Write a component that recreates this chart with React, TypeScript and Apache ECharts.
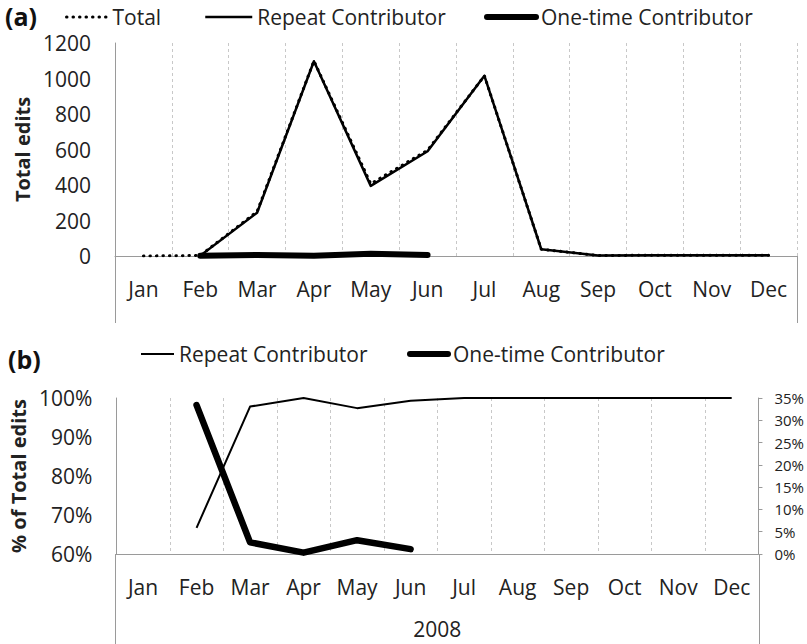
import React, { useEffect, useRef } from "react";
import * as echarts from "echarts";

const months = ["Jan", "Feb", "Mar", "Apr", "May", "Jun", "Jul", "Aug", "Sep", "Oct", "Nov", "Dec"];
const totalEdits = [0, 3, 250, 1099, 407, 596, 1015, 38, 3, 4, 4, 4];
const repeatEdits = [null, 2, 244, 1097, 395, 590, 1015, 38, 3, 4, 4, 4];
const oneTimeEdits = [null, 1, 6, 2, 12, 6, null, null, null, null, null, null];
const repeatPct = [null, 66.7, 97.8, 100, 97.4, 99.3, 100, 100, 100, 100, 100, 100];
const oneTimePct = [null, 33.4, 2.6, 0.3, 3.1, 1.1, null, null, null, null, null, null];
const yearLabel = "2008";

const FONT = "Open Sans";
const TXT = "#222";
const AXIS = "#9a9a9a";
const GRID = "#c8c8c8";

export default function App() {
  const ref = useRef<HTMLDivElement>(null);
  useEffect(() => {
    if (!ref.current) return;
    const chart = echarts.init(ref.current, undefined, { renderer: "svg" });
    const catAxis = (gridIndex: number, margin: number, extra: any = {}) => ({
      type: "category",
      gridIndex,
      data: months,
      boundaryGap: true,
      axisLine: { show: true, lineStyle: { color: AXIS, width: 1 } },
      axisTick: { show: false },
      axisLabel: { color: TXT, fontSize: 21, fontFamily: FONT, margin, interval: 0 },
      splitLine: { show: true, interval: 0, lineStyle: { color: GRID, type: [3, 3], width: 1 } },
      ...extra,
    });
    const legendBase = {
      orient: "horizontal",
      padding: 0,
      itemHeight: 14,
      itemStyle: { opacity: 0 },
      textStyle: { color: TXT, fontSize: 21, fontFamily: FONT, lineHeight: 24 },
      selectedMode: false,
    };
    const dottedLeg = { color: "#000", width: 3, type: [0.5, 6], cap: "round" };
    const thinLeg = { color: "#000", width: 2.5, type: "solid" };
    const thickLeg = { color: "#000", width: 6, type: "solid", cap: "round" };
    chart.setOption({
      animation: false,
      backgroundColor: "#fff",
      textStyle: { fontFamily: FONT },
      grid: [
        { left: 115, top: 43, width: 682, height: 213 },
        { left: 115, top: 398, width: 644, height: 156 },
      ],
      legend: [
        { ...legendBase, left: 65, top: 5, itemWidth: 41, lineStyle: dottedLeg, data: ["Total"] },
        { ...legendBase, left: 204, top: 5, itemWidth: 47, lineStyle: thinLeg, data: ["Repeat Contributor"] },
        { ...legendBase, left: 484, top: 5, itemWidth: 49, lineStyle: thickLeg, data: ["One-time Contributor"] },
        { ...legendBase, left: 140, top: 342, itemWidth: 33, lineStyle: { ...thinLeg, width: 2 }, data: ["Repeat Contributor"] },
        { ...legendBase, left: 407, top: 342, itemWidth: 38, lineStyle: thickLeg, data: ["One-time Contributor"] },
      ],
      xAxis: [
        catAxis(0, 22),
        catAxis(1, 22, {
          name: yearLabel,
          nameLocation: "middle",
          nameGap: 64,
          nameTextStyle: { color: TXT, fontSize: 21, fontFamily: FONT },
        }),
      ],
      yAxis: [
        {
          type: "value",
          gridIndex: 0,
          min: 0,
          max: 1200,
          interval: 200,
          axisLine: { show: true, lineStyle: { color: AXIS } },
          axisTick: { show: false },
          splitLine: { show: false },
          axisLabel: {
            color: TXT,
            fontSize: 21,
            fontFamily: FONT,
            margin: 24,
            formatter: (v: number) => String(v),
          },
          name: "Total edits",
          nameLocation: "middle",
          nameRotate: 90,
          nameGap: 80,
          nameTextStyle: { color: TXT, fontSize: 20, fontWeight: "bold", fontFamily: FONT },
        },
        {
          type: "value",
          gridIndex: 1,
          min: 60,
          max: 100,
          interval: 10,
          axisLine: { show: true, lineStyle: { color: AXIS } },
          axisTick: { show: false },
          splitLine: { show: false },
          axisLabel: { color: TXT, fontSize: 21, fontFamily: FONT, margin: 24, formatter: "{value}%" },
          name: "% of Total edits",
          nameLocation: "middle",
          nameRotate: 90,
          nameGap: 80,
          nameTextStyle: { color: TXT, fontSize: 20, fontWeight: "bold", fontFamily: FONT },
        },
        {
          type: "value",
          gridIndex: 1,
          position: "right",
          min: 0,
          max: 35,
          interval: 5,
          axisLine: { show: true, lineStyle: { color: AXIS } },
          axisTick: { show: true, length: 4, inside: false, lineStyle: { color: AXIS } },
          splitLine: { show: false },
          axisLabel: { color: TXT, fontSize: 15, fontFamily: FONT, margin: 16, formatter: "{value}%" },
        },
      ],
      series: [
        {
          name: "Total",
          type: "line",
          xAxisIndex: 0,
          yAxisIndex: 0,
          data: totalEdits,
          symbol: "none",
          z: 1,
          lineStyle: { color: "#000", width: 3, type: [0.5, 6], cap: "round" },
          itemStyle: { color: "#000" },
        },
        {
          name: "Repeat Contributor",
          type: "line",
          xAxisIndex: 0,
          yAxisIndex: 0,
          data: repeatEdits,
          symbol: "none",
          z: 2,
          lineStyle: { color: "#000", width: 2.5, join: "round" },
          itemStyle: { color: "#000" },
        },
        {
          name: "One-time Contributor",
          type: "line",
          xAxisIndex: 0,
          yAxisIndex: 0,
          data: oneTimeEdits,
          symbol: "none",
          z: 3,
          lineStyle: { color: "#000", width: 6, cap: "round", join: "round" },
          itemStyle: { color: "#000" },
        },
        {
          name: "Repeat Contributor",
          type: "line",
          xAxisIndex: 1,
          yAxisIndex: 1,
          data: repeatPct,
          symbol: "none",
          z: 2,
          lineStyle: { color: "#000", width: 2, join: "round" },
          itemStyle: { color: "#000" },
        },
        {
          name: "One-time Contributor",
          type: "line",
          xAxisIndex: 1,
          yAxisIndex: 2,
          data: oneTimePct,
          symbol: "none",
          z: 3,
          lineStyle: { color: "#000", width: 6.5, cap: "round", join: "round" },
          itemStyle: { color: "#000" },
        },
      ],
      graphic: [
        { type: "text", left: 5, top: 3, style: { text: "(a)", fill: "#111", font: `bold 25px "${FONT}"` } },
        { type: "text", left: 8, top: 346, style: { text: "(b)", fill: "#111", font: `bold 25px "${FONT}"` } },
        { type: "line", shape: { x1: 115.5, y1: 256, x2: 115.5, y2: 323 }, style: { stroke: AXIS, lineWidth: 1 } },
        { type: "line", shape: { x1: 797.5, y1: 256, x2: 797.5, y2: 323 }, style: { stroke: AXIS, lineWidth: 1 } },
        { type: "line", shape: { x1: 115.5, y1: 554, x2: 115.5, y2: 644 }, style: { stroke: AXIS, lineWidth: 1 } },
        { type: "line", shape: { x1: 759.5, y1: 554, x2: 759.5, y2: 644 }, style: { stroke: AXIS, lineWidth: 1 } },
      ],
    });
    return () => chart.dispose();
  }, []);
  return (
    <div
      ref={ref}
      style={{ position: "absolute", left: 0, top: 0, width: 807, height: 644, background: "#fff" }}
    />
  );
}
